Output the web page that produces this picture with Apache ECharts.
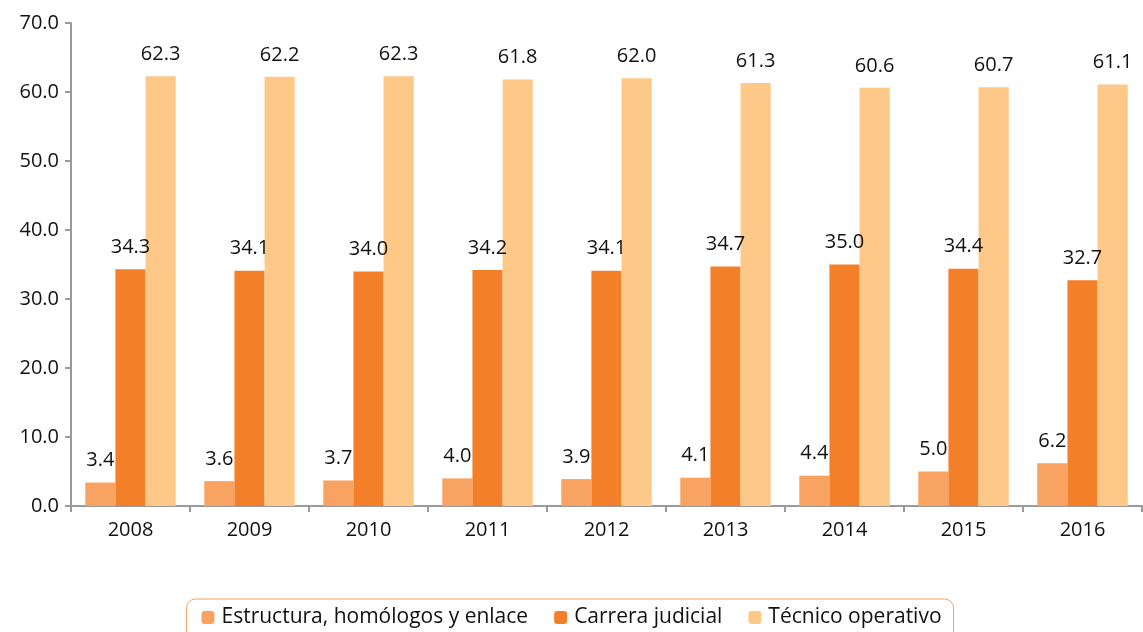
<!DOCTYPE html>
<html>
<head>
<meta charset="utf-8">
<script src="https://cdn.jsdelivr.net/npm/echarts@6/dist/echarts.min.js"></script>
<style>
  html, body { margin: 0; padding: 0; background: #fff; }
  #chart { width: 1143px; height: 632px; }
</style>
</head>
<body>
<div id="chart"></div>
<script>
const years = ['2008', '2009', '2010', '2011', '2012', '2013', '2014', '2015', '2016'];
const estructura = [3.4, 3.6, 3.7, 4.0, 3.9, 4.1, 4.4, 5.0, 6.2];
const carrera = [34.3, 34.1, 34.0, 34.2, 34.1, 34.7, 35.0, 34.4, 32.7];
const tecnico = [62.3, 62.2, 62.3, 61.8, 62.0, 61.3, 60.6, 60.7, 61.1];

const font = 'Open Sans';
const label = {
  show: true,
  position: 'top',
  distance: 12,
  fontFamily: font,
  fontSize: 20,
  color: '#111',
  formatter: p => p.value.toFixed(1)
};

const chart = echarts.init(document.getElementById('chart'));
chart.setOption({
  animation: false,
  textStyle: { fontFamily: font },
  grid: { left: 71, right: 1, top: 23, bottom: 126, containLabel: false },
  legend: {
    top: 599,
    left: 'center',
    itemWidth: 13,
    itemHeight: 13,
    itemGap: 26,
    padding: [8, 12, 20, 15],
    borderColor: '#F2A267',
    borderWidth: 1,
    borderRadius: 9,
    textStyle: { fontFamily: font, fontSize: 21, color: '#111', padding: [0, 0, 0, 2] },
    data: ['Estructura, homólogos y enlace', 'Carrera judicial', 'Técnico operativo']
  },
  xAxis: {
    type: 'category',
    data: years,
    axisLine: { lineStyle: { color: '#9a9a9a', width: 2 } },
    axisTick: { show: true, length: 6, lineStyle: { color: '#9a9a9a', width: 2 } },
    axisLabel: { fontFamily: font, fontSize: 20, color: '#111', margin: 14 }
  },
  yAxis: {
    type: 'value',
    min: 0,
    max: 70,
    interval: 10,
    axisLine: { show: true, lineStyle: { color: '#9a9a9a', width: 2 } },
    axisTick: { show: true, length: 6, lineStyle: { color: '#9a9a9a', width: 2 } },
    splitLine: { show: false },
    axisLabel: { fontFamily: font, fontSize: 20, color: '#111', margin: 12, formatter: v => v.toFixed(1) }
  },
  series: [
    { name: 'Estructura, homólogos y enlace', type: 'bar', data: estructura, barGap: '0%', barCategoryGap: '24%', itemStyle: { color: '#F8A361' }, label },
    { name: 'Carrera judicial', type: 'bar', data: carrera, itemStyle: { color: '#F47F29' }, label },
    { name: 'Técnico operativo', type: 'bar', data: tecnico, itemStyle: { color: '#FDC888' }, label }
  ]
});
</script>
</body>
</html>
